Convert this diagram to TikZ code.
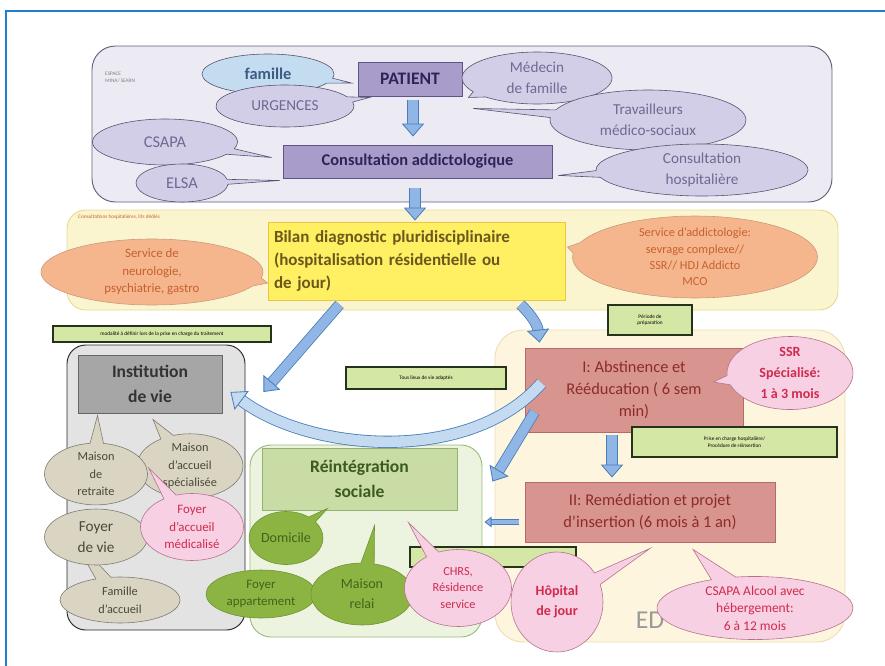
\documentclass[tikz,border=0pt]{standalone}
\usepackage{fontspec}
\setmainfont{Carlito}
\usetikzlibrary{arrows.meta,calc,positioning,shapes.callouts,shapes.geometric}
\pgfdeclarelayer{background}
\pgfsetlayers{background,main}

\newcommand\setfs[2]{\fontsize{#1}{#2}\selectfont}

\definecolor{framecol}{HTML}{1F80D0}
\definecolor{topfill}{HTML}{ECEAF3}
\definecolor{topedge}{HTML}{5C6478}
\definecolor{lavfill}{HTML}{D3CEE7}
\definecolor{lavedge}{HTML}{55506E}
\definecolor{lavtext}{HTML}{6E6A92}
\definecolor{famfill}{HTML}{C4DCEF}
\definecolor{famtext}{HTML}{3C5C84}
\definecolor{purplebox}{HTML}{A89CCB}
\definecolor{purpleedge}{HTML}{5E5488}
\definecolor{purpletext}{HTML}{2E2458}
\definecolor{yelband}{HTML}{FBF5CF}
\definecolor{yeledge}{HTML}{E9D995}
\definecolor{yelbox}{HTML}{FFEF62}
\definecolor{yelboxedge}{HTML}{E8C64A}
\definecolor{yeltext}{HTML}{6A581C}
\definecolor{peachfill}{HTML}{F5B68D}
\definecolor{peachedge}{HTML}{C99A78}
\definecolor{peachtext}{HTML}{C8602E}
\definecolor{memofill}{HTML}{D4E7A4}
\definecolor{memoedge}{HTML}{25331C}
\definecolor{greypanel}{HTML}{E3E3E3}
\definecolor{greybox}{HTML}{A6A6A6}
\definecolor{stonefill}{HTML}{D9D5C2}
\definecolor{stoneedge}{HTML}{7C7A70}
\definecolor{stonetext}{HTML}{4A4838}
\definecolor{rosefill}{HTML}{F7D0E3}
\definecolor{roseedge}{HTML}{B6708E}
\definecolor{rosetext}{HTML}{D22A4E}
\definecolor{beigepanel}{HTML}{FDF5DD}
\definecolor{beigeedge}{HTML}{F0DDB4}
\definecolor{brickbox}{HTML}{D8958F}
\definecolor{brickedge}{HTML}{B56A66}
\definecolor{bricktext}{HTML}{8C2B2B}
\definecolor{greenpanel}{HTML}{ECF4DF}
\definecolor{greenedge}{HTML}{9CBB7E}
\definecolor{reintfill}{HTML}{C9DCA5}
\definecolor{reintedge}{HTML}{94B072}
\definecolor{reinttext}{HTML}{3C5A22}
\definecolor{leaffill}{HTML}{8BB443}
\definecolor{leafedge}{HTML}{6E9434}
\definecolor{leaftext}{HTML}{44621A}
\definecolor{arrowfill}{HTML}{8FB6E4}
\definecolor{arrowlight}{HTML}{C3DAF0}
\definecolor{arrowedge}{HTML}{4A7DBA}

\begin{document}
\begin{tikzpicture}
  [
    x = 0.03cm,
    y = -0.03cm,
    font = \setfs{11}{14},
    sz/.style 2 args = {
      minimum width = #1*0.03cm,
      minimum height = #2*0.03cm,
    },
    zone/.style = {
      rectangle,
      rounded corners = 16pt,
      line width = 0.8pt,
    },
    blockbox/.style = {
      rectangle,
      inner sep = 0pt,
      align = center,
      line width = 0.8pt,
    },
    bubble/.style = {
      ellipse callout,
      inner sep = 0pt,
      align = center,
      line width = 0.5pt,
    },
    blob/.style = {
      ellipse,
      inner sep = 0pt,
      align = center,
      line width = 0.5pt,
    },
    lav/.style = {bubble, draw = lavedge, fill = lavfill, text = lavtext, font = \setfs{13}{18}},
    peach/.style = {bubble, draw = peachedge, fill = peachfill, text = peachtext, font = \setfs{11}{15}},
    stone/.style = {draw = stoneedge, fill = stonefill, text = stonetext, font = \setfs{10.5}{15}},
    rose/.style = {bubble, draw = roseedge, fill = rosefill, text = rosetext, font = \setfs{11}{15}},
    leaf/.style = {draw = leafedge, fill = leaffill, text = leaftext, font = \setfs{12}{16}},
    memo/.style = {
      blockbox,
      draw = memoedge,
      fill = memofill,
      line width = 1.2pt,
      font = \setfs{4.5}{5.5},
    },
    fat/.style = {
      draw = arrowedge,
      line width = 0.7pt,
      double = arrowfill,
      double distance = 8pt,
      -{Triangle[length=11pt,width=19pt,fill=arrowfill,line width=0.7pt]},
    },
  ]

  \useasboundingbox (0,0) rectangle (885,666);

  \begin{pgfonlayer}{background}
    \draw [framecol, line width = 2.5pt] (6,666) -- (6,11) -- (885,11);
    \node (toppanel) [zone, rounded corners = 20pt, draw = topedge, fill = topfill, sz = {740}{156}] at (462,124) {};
    \node (yelzone) [zone, draw = yeledge, fill = yelband, sz = {771}{100}] at (452.5,260) {};
    \node (greyzone) [zone, draw = black!85, fill = greypanel, sz = {178}{285}] at (156,487.5) {};
    \node (beigezone) [zone, rounded corners = 24pt, draw = beigeedge, fill = beigepanel, sz = {350}{312}] at (670,486) {};
    \node (greenzone) [zone, rounded corners = 18pt, draw = greenedge, fill = greenpanel, sz = {232}{192}] at (366,541) {};
  \end{pgfonlayer}

  \node (espace) [anchor = north west, inner sep = 0pt, align = left, text = gray, font = \setfs{4.5}{6}] at (105,72) {ESPACE\\MINA/ SEARN};
  \node (litsnote) [anchor = north west, inner sep = 0pt, text = peachtext, font = \setfs{4.5}{6}] at (78,215) {Consultations hospitalières, lits dédiés};
  \node (ed) [text = black!40, font = \setfs{22}{24}] at (650,620) {ED};

  \node (patient) [blockbox, draw = purpleedge, fill = purplebox, text = purpletext, font = \bfseries\setfs{15}{18}, sz = {104}{34}] at (410,79) {PATIENT};
  \node (consult) [blockbox, draw = purpleedge, fill = purplebox, text = purpletext, font = \bfseries\setfs{14}{17}, sz = {269}{33}] at (417.5,161.5) {Consultation addictologique};
  \node (bilan) [blockbox, align = left, text width = 285*0.03cm, draw = yelboxedge, fill = yelbox, text = yeltext, font = \bfseries\setfs{14.5}{20}, sz = {297}{78}] at (416.5,261) {Bilan diagnostic pluridisciplinaire\\(hospitalisation résidentielle ou\\de jour)};
  \node (institution) [blockbox, draw = black!60, fill = greybox, text = black!80, font = \bfseries\setfs{15}{21}, sz = {144}{58}] at (150,384) {Institution\\de vie};
  \node (abst) [blockbox, draw = brickedge, fill = brickbox, text = bricktext, font = \setfs{14}{19}, sz = {218}{84}] at (634,390) {I: Abstinence et\\Rééducation ( 6 sem\\min)};
  \node (remed) [blockbox, draw = brickedge, fill = brickbox, text = bricktext, font = \setfs{14}{19}, sz = {250}{60}] at (650,512) {II: Remédiation et projet\\d'insertion (6 mois à 1 an)};
  \node (reint) [blockbox, draw = reintedge, fill = reintfill, text = reinttext, font = \bfseries\setfs{15}{21}, sz = {195}{62}] at (359.5,479) {Réintégration\\sociale};

  \node (modalite) [memo, sz = {218}{16}] at (162,334) {modalité à définir lors de la prise en charge du traitement};
  \node (periode) [memo, sz = {84}{30}] at (650,320) {Période de\\préparation};
  \node (lieux) [memo, sz = {160}{22}] at (426,378) {Tous lieux de vie adaptés};
  \node (priseencharge) [memo, sz = {205}{30}] at (734.5,442) {Prise en charge hospitalière/\\Procédure de réinsertion};
  \node (hidden) [memo, sz = {166}{20}] at (493,557) {};

  \node (famille) [bubble, draw = lavedge, fill = famfill, text = famtext, font = \bfseries\setfs{14}{18}, sz = {132}{40},
    callout absolute pointer = {([shift={(-6,4)}]patient.west)}] at (268,74) {famille};
  \node (urgences) [lav, sz = {138}{42}, callout absolute pointer = {([shift={(12,1)}]patient.south west)}] at (285,106) {URGENCES};
  \node (medecin) [lav, sz = {150}{52}, callout absolute pointer = {([shift={(6,1)}]patient.south east)}] at (537,78) {Médecin\\de famille};
  \node (travail) [lav, sz = {196}{60}, callout absolute pointer = {([shift={(11,12)}]patient.south east)}] at (648,120) {Travailleurs\\médico-sociaux};
  \node (csapa) [lav, font = \setfs{14}{18}, sz = {145}{46}, callout absolute pointer = {([shift={(-11,-4)}]consult.west)}] at (165,142) {CSAPA};
  \node (elsa) [lav, font = \setfs{14}{18}, sz = {92}{38}, callout absolute pointer = {([shift={(-3,2)}]consult.south west)}] at (182,183) {ELSA};
  \node (hospit) [lav, sz = {212}{52}, callout absolute pointer = {([shift={(6,-3)}]consult.south east)}] at (702,170) {Consultation\\hospitalière};

  \node (neuro) [peach, sz = {222}{66}, callout absolute pointer = {([shift={(0,22)}]bilan.west)}] at (152,272) {Service de\\neurologie,\\psychiatrie, gastro};
  \node (addicto) [peach, font = \setfs{10.5}{14}, sz = {245}{72}, callout absolute pointer = {([shift={(2,-14)}]bilan.east)}] at (695,257) {Service d'addictologie:\\sevrage complexe//\\SSR// HDJ Addicto\\MCO};

  \node (accueilspe) [bubble, stone, sz = {106}{48}, callout absolute pointer = {([shift={(3,6)}]institution.south)}] at (190,466) {Maison\\d'accueil\\spécialisée};
  \node (retraite) [bubble, stone, sz = {103}{56}, callout absolute pointer = {([shift={(20,2)}]institution.south west)}] at (96,474) {Maison\\de\\retraite};
  \node (famaccueil) [bubble, stone, sz = {120}{46}, callout absolute pointer = {([shift={(-25,30)}]retraite.south)}] at (120,600) {Famille\\d'accueil};
  \node (foyervie) [blob, stone, font = \setfs{13}{18}, sz = {103}{56}] at (96,537) {Foyer\\de vie};
  \node (fam) [rose, sz = {103}{67}, callout absolute pointer = {([shift={(1,-6)}]retraite.east)}] at (192,527) {Foyer\\d'accueil\\médicalisé};

  \node (domicile) [bubble, leaf, sz = {74}{53}, callout absolute pointer = {([shift={(-32,-2)}]reint.south)}] at (286,538) {Domicile};
  \node (foyerapp) [blob, leaf, font = \setfs{11}{15}, sz = {110}{48}] at (261,594) {Foyer\\appartement};
  \node (relai) [bubble, leaf, font = \setfs{12}{17}, sz = {102}{62}, callout absolute pointer = {([shift={(15,15)}]reint.south)}] at (362,594) {Maison\\relai};
  \node (chrs) [rose, font = \setfs{10.5}{14}, sz = {107}{77}, callout absolute pointer = {([shift={(-49,12)}]reint.south east)}] at (458,588) {CHRS,\\Résidence\\service};
  \node (ssr) [rose, font = \bfseries\setfs{12}{18}, sz = {126}{73}, callout absolute pointer = {([shift={(-30,-8)}]abst.east)}] at (790,373) {SSR\\Spécialisé:\\1 à 3 mois};
  \node (hopital) [rose, font = \bfseries\setfs{12}{17}, sz = {92}{100}, callout absolute pointer = {([shift={(0,6)}]remed.south)}] at (557,602) {Hôpital\\de jour};
  \node (csapaalcool) [rose, font = \setfs{11.5}{15}, sz = {196}{63}, callout absolute pointer = {([shift={(43,7)}]remed.south)}] at (755,608) {CSAPA Alcool avec\\hébergement:\\6 à 12 mois};

  \draw [fat] ([shift={(3,4)}]patient.south) -- ([shift={(-4.5,-8)}]consult.north);
  \draw [fat] ([shift={(-2.5,10)}]consult.south) -- ([shift={(-1.5,-1)}]bilan.north);
  \draw [fat] ([shift={(72,4)}]bilan.south west) -- ([shift={(41,8)}]institution.east);
  \draw [fat] ([shift={(-45,4)}]bilan.south east) to [bend left = 20] ([shift={(15,-5)}]abst.north west);
  \draw [fat, double = arrowlight, double distance = 9pt, -{Triangle[length=12pt,width=20pt,fill=arrowlight,line width=0.7pt]}]
    ([shift={(17,-7)}]abst.west) .. controls (470,465) and (310,452) .. ([shift={(8,8)}]institution.east);
  \draw [fat] ([shift={(10,22)}]abst.west) -- ([shift={(10,37)}]greenzone.north east);
  \draw [fat, double distance = 3pt, -{Triangle[length=6pt,width=9pt,fill=arrowfill,line width=0.7pt]}]
    ([shift={(-6,10)}]remed.west) -- ([shift={(2,-19)}]greenzone.east);
  \draw [fat] ([shift={(-22,3)}]abst.south) -- ([shift={(-38,-4)}]remed.north);

\end{tikzpicture}
\end{document}
